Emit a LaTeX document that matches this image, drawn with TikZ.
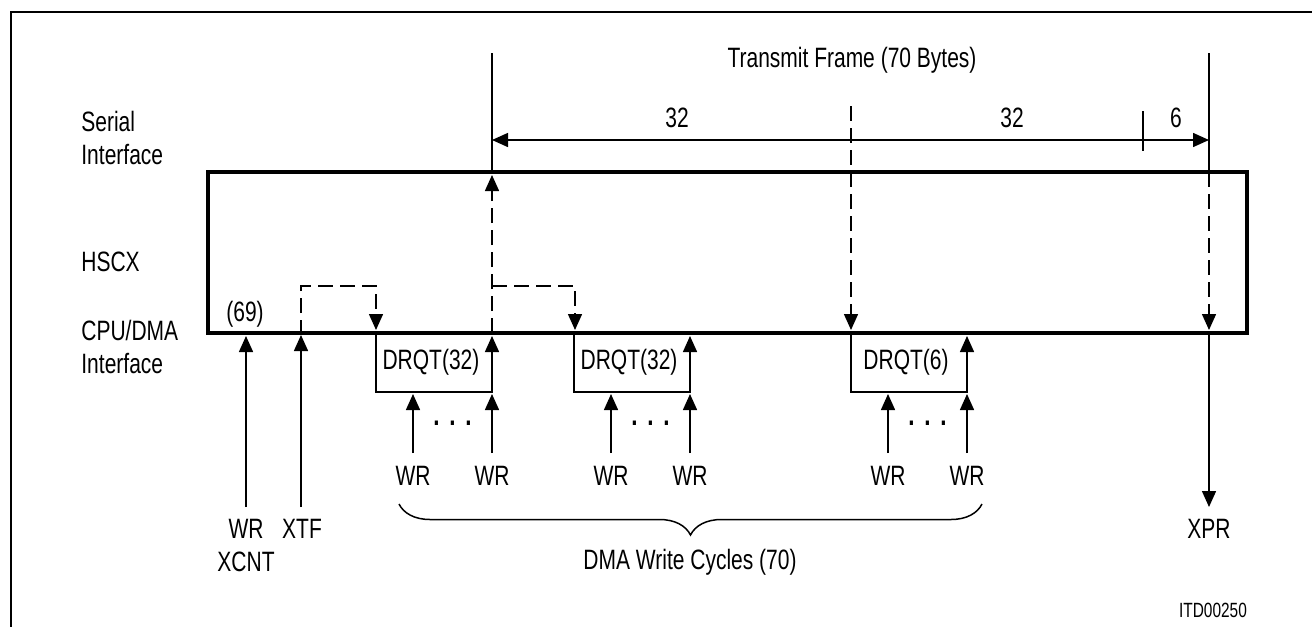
\documentclass[tikz,border=0pt]{standalone}
\usepackage{fontspec}
\setmainfont{Liberation Sans}[FakeStretch=0.75]
\usetikzlibrary{arrows.meta,decorations.pathreplacing}
\begin{document}
\begin{tikzpicture}[x=0.5pt,y=-0.5pt,
  wire/.style={line width=0.75pt},
  dashwire/.style={wire, dash pattern=on 7.5pt off 3.5pt},
  tip/.style={-{Triangle[length=8pt,width=7pt]}},
  dtip/.style={{Triangle[length=8pt,width=7pt]}-{Triangle[length=8pt,width=7pt]}},
  lbl/.style={font=\fontsize{14}{16.5}\selectfont, inner sep=0pt},
  dotlbl/.style={font=\fontsize{15}{15}\bfseries, inner sep=0pt},
  smalllbl/.style={font=\fontsize{10.3}{12}\selectfont, inner sep=0pt},
  hscxbox/.style={draw, line width=2pt, inner sep=0pt, minimum width=519.5pt, minimum height=80.5pt}]
\useasboundingbox (0,0) rectangle (1312,627);
% frame
\coordinate (fr1) at (1312,12);
\coordinate (fr2) at (11,12);
\coordinate (fr3) at (11,627);
\draw[line width=1pt] (fr1) -- (fr2) -- (fr3);
% HSCX box
\node[hscxbox] (hscx) at (727.5,252.5) {};
% left labels
\node[lbl, anchor=west, align=left] (serial) at (81,138) {Serial\\Interface};
\node[lbl, anchor=west] (hscxlbl) at (81,262) {HSCX};
\node[lbl, anchor=west, align=left] (cpu) at (81,347) {CPU/DMA\\Interface};
% top
\node[lbl] (title) at (852,60) {Transmit Frame (70 Bytes)};
\coordinate (atop) at (492,53);
\coordinate (abox) at (492,172);
\coordinate (btop) at (1209,53);
\coordinate (bbox) at (1209,172);
\draw[wire] (atop) -- (abox);
\draw[wire] (btop) -- (bbox);
\coordinate (dl) at (492,140);
\coordinate (dr) at (1209,140);
\draw[wire, dtip] (dl) -- (dr);
\coordinate (tk1) at (1143,111);
\coordinate (tk2) at (1143,151);
\draw[wire] (tk1) -- (tk2);
\node[lbl] (n32a) at (677,118) {32};
\node[lbl] (n32b) at (1012,118) {32};
\node[lbl] (n6) at (1176,118) {6};
% dashed paths
\coordinate (x1) at (301,335);
\coordinate (x2) at (301,286);
\coordinate (x3) at (376,286);
\coordinate (x4) at (376,330);
\draw[dashwire, tip] (x1) -- (x2) -- (x3) -- (x4);
\coordinate (y1) at (492,333);
\coordinate (y2) at (492,175);
\draw[dashwire, tip] (y1) -- (y2);
\coordinate (y3) at (492,286);
\coordinate (y4) at (575,286);
\coordinate (y5) at (575,330);
\draw[dashwire, tip] (y3) -- (y4) -- (y5);
\coordinate (m1) at (851,106);
\coordinate (m2) at (851,330);
\draw[dashwire, tip] (m1) -- (m2);
\coordinate (r2) at (1209,330);
\draw[dashwire, tip] (bbox) -- (r2);
% solid arrows to/from box bottom
\coordinate (wx1) at (246,507);
\coordinate (wx2) at (246,336);
\draw[wire, tip] (wx1) -- (wx2);
\coordinate (xt1) at (301,507);
\draw[wire, tip] (xt1) -- (x1);
\coordinate (xp1) at (1209,335);
\coordinate (xp2) at (1209,507);
\draw[wire, tip] (xp1) -- (xp2);
\node[lbl] (n69) at (245,314) {(69)};
% DRQT boxes
\foreach \l/\r/\t/\n in {376/492/DRQT(32)/a, 574/690/DRQT(32)/b, 851/967/DRQT(6)/c}{
  \coordinate (q1\n) at (\l,333);
  \coordinate (q2\n) at (\l,392);
  \coordinate (q3\n) at (\r,392);
  \coordinate (q4\n) at (\r,336);
  \draw[wire, tip] (q1\n) -- (q2\n) -- (q3\n) -- (q4\n);
  \node[lbl] (dq\n) at ({(\l+\r)/2-3},362) {\t};
  \coordinate (w1\n) at ({\l+37},453);
  \coordinate (w2\n) at ({\l+37},394);
  \coordinate (w3\n) at (\r,453);
  \coordinate (w4\n) at (\r,394);
  \draw[wire, tip] (w1\n) -- (w2\n);
  \draw[wire, tip] (w3\n) -- (w4\n);
  \node[lbl] (wra\n) at ({\l+37},476) {WR};
  \node[lbl] (wrb\n) at (\r,476) {WR};
  \node[dotlbl, anchor=base] (dots\n) at ({(\l+37+\r)/2},425) {.\kern4.9pt.\kern4.9pt.};
}
% brace
\coordinate (br1) at (399,504);
\coordinate (br2) at (982,504);
\draw[wire, decorate, decoration={brace, mirror, amplitude=15.5pt}] (br1) -- (br2);
% bottom labels
\node[lbl] (wrx) at (246,529) {WR};
\node[lbl] (xtf) at (302,529) {XTF};
\node[lbl] (xcnt) at (246,562) {XCNT};
\node[lbl] (xpr) at (1209,529) {XPR};
\node[lbl] (dma) at (690,562) {DMA Write Cycles (70)};
\node[smalllbl] (itd) at (1213,610) {ITD00250};
\end{tikzpicture}
\end{document}
